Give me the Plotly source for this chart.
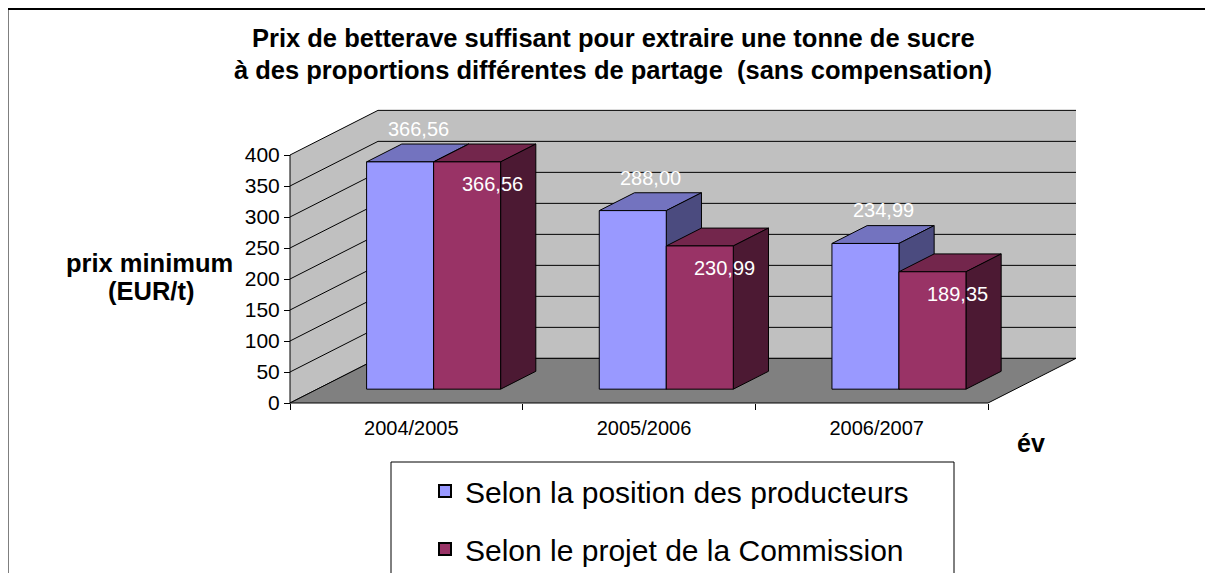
import plotly.graph_objects as go

# ---------------- data ----------------
categories = ["2004/2005", "2005/2006", "2006/2007"]
producteurs = [366.56, 288.00, 234.99]
commission = [366.56, 230.99, 189.35]
series_names = ["Selon la position des producteurs", "Selon le projet de la Commission"]
y_ticks = [0, 50, 100, 150, 200, 250, 300, 350, 400]
title_lines = ["Prix de betterave suffisant pour extraire une tonne de sucre",
               "à des proportions différentes de partage  (sans compensation)"]
y_title_lines = ["prix minimum", "(EUR/t)"]
x_title = "év"

# ---------------- styling / geometry ----------------
W, H = 1213, 573
OFF = 8               # page body margin of the html page
PX_X = 232.7          # pixels per category unit
PX_Y = 0.62           # pixels per value unit
DX = 88 / PX_X        # full depth shift (x units)
DY = 72               # full depth shift (value units)
D0, D1 = 0.31, 0.71   # bar depth (front/back fraction)
BW = 0.288            # bar width (category units)
YMAX = max(y_ticks)

X0 = -0.5 - 4 / PX_X
X1 = 2.5 + DX + 4 / PX_X
Y0 = -4 / PX_Y
Y1 = (403 - 106) / PX_Y
PW = 794
PH = 301
ML = 286 - OFF
MT = 106 - OFF
MR = W - ML - PW
MB = H - MT - PH

def px(xp):
    return (xp - OFF - ML) / PW

def py(yp):
    return (H - MB - (yp - OFF)) / PH

FONT = "Arial, Liberation Sans, sans-serif"
front_cols = ["#9999FF", "#993366"]
top_cols = ["#7373BF", "#73264C"]
side_cols = ["#4B4B7F", "#4C1933"]
WALL = "#C0C0C0"
FLOOR = "#808080"

def poly(pts):
    return "M " + " L ".join(f"{x},{y}" for x, y in pts) + " Z"

shapes = []
# outer frame
shapes.append(dict(type="rect", xref="paper", yref="paper", x0=px(7.5), x1=px(1230),
                   y0=py(9), y1=py(590), line=dict(color="black", width=2),
                   fillcolor="rgba(0,0,0,0)", layer="below"))
# side wall
shapes.append(dict(type="path", xref="x", yref="y", layer="below",
                   path=poly([(-0.5, 0), (-0.5, YMAX), (-0.5 + DX, YMAX + DY), (-0.5 + DX, DY)]),
                   fillcolor=WALL, line=dict(width=0)))
# back wall
shapes.append(dict(type="path", xref="x", yref="y", layer="below",
                   path=poly([(-0.5 + DX, DY), (-0.5 + DX, YMAX + DY), (2.5 + DX, YMAX + DY), (2.5 + DX, DY)]),
                   fillcolor=WALL, line=dict(width=0)))
# gridlines (back wall + side wall)
for v in y_ticks:
    shapes.append(dict(type="line", xref="x", yref="y", layer="below",
                       x0=-0.5 + DX, x1=2.5 + DX, y0=v + DY, y1=v + DY,
                       line=dict(color="black", width=1)))
    shapes.append(dict(type="line", xref="x", yref="y", layer="below",
                       x0=-0.5, x1=-0.5 + DX, y0=v, y1=v + DY,
                       line=dict(color="black", width=1)))
# floor
shapes.append(dict(type="path", xref="x", yref="y", layer="below",
                   path=poly([(-0.5, 0), (2.5, 0), (2.5 + DX, DY), (-0.5 + DX, DY)]),
                   fillcolor=FLOOR, line=dict(color="black", width=1)))
# y axis line
shapes.append(dict(type="line", xref="x", yref="y", layer="below",
                   x0=-0.5, x1=-0.5, y0=0, y1=YMAX, line=dict(color="black", width=1)))

# bar 3D faces (top + side)
series = [producteurs, commission]
ddx, ddy = (D1 - D0) * DX, (D1 - D0) * DY
yb = D0 * DY
centers = []
for s in range(2):
    centers.append([i + (s - 0.5) * BW + D0 * DX for i in range(len(categories))])
for i in range(len(categories)):
    for s in range(2):
        xl = centers[s][i] - BW / 2
        xr = centers[s][i] + BW / 2
        yt = yb + series[s][i]
        shapes.append(dict(type="path", xref="x", yref="y", layer="below",
                           path=poly([(xl, yt), (xr, yt), (xr + ddx, yt + ddy), (xl + ddx, yt + ddy)]),
                           fillcolor=top_cols[s], line=dict(color="black", width=1)))
        shapes.append(dict(type="path", xref="x", yref="y", layer="below",
                           path=poly([(xr, yb), (xr, yt), (xr + ddx, yt + ddy), (xr + ddx, yb + ddy)]),
                           fillcolor=side_cols[s], line=dict(color="black", width=1)))

# legend box (open at the bottom of the page)
shapes.append(dict(type="rect", xref="paper", yref="paper", x0=px(391), x1=px(954),
                   y0=py(462), y1=py(600), line=dict(color="black", width=1),
                   fillcolor="rgba(0,0,0,0)"))

fig = go.Figure()
for s in range(2):
    fig.add_trace(go.Bar(
        x=centers[s], y=series[s], base=[yb] * len(categories), width=BW,
        name=series_names[s], legendgroup=f"g{s}",
        marker=dict(color=front_cols[s], line=dict(color="black", width=1)),
    ))

annotations = []
fmt = lambda v: f"{v:.2f}".replace(".", ",")
for i in range(len(categories)):
    annotations.append(dict(x=centers[0][i], y=yb + producteurs[i], xref="x", yref="y",
                            text=fmt(producteurs[i]), showarrow=False, xshift=18, yshift=33,
                            xanchor="center", yanchor="middle",
                            font=dict(family=FONT, size=20, color="white")))
    annotations.append(dict(x=centers[1][i], y=yb + commission[i], xref="x", yref="y",
                            text=fmt(commission[i]), showarrow=False, xshift=25, yshift=-22,
                            xanchor="center", yanchor="middle",
                            font=dict(family=FONT, size=20, color="white")))
title_y = [38, 70]
for k, line in enumerate(title_lines):
    annotations.append(dict(x=px(613), y=py(title_y[k]), xref="paper", yref="paper", text=line,
                            showarrow=False, xanchor="center", yanchor="middle",
                            font=dict(family=FONT, size=25.5, color="black", weight="bold")))
y_title_pos = [(149, 263), (151, 291)]
for k, line in enumerate(y_title_lines):
    annotations.append(dict(x=px(y_title_pos[k][0]), y=py(y_title_pos[k][1]), xref="paper", yref="paper",
                            text=line, showarrow=False, xanchor="center", yanchor="middle",
                            font=dict(family=FONT, size=25.5, color="black", weight="bold")))
annotations.append(dict(x=px(1031), y=py(443), xref="paper", yref="paper", text=x_title,
                        showarrow=False, xanchor="center", yanchor="middle",
                        font=dict(family=FONT, size=25, color="black", weight="bold")))

fig.update_layout(
    template="none",
    width=W, height=H,
    margin=dict(l=ML, r=MR, t=MT, b=MB, autoexpand=False),
    paper_bgcolor="white", plot_bgcolor="rgba(0,0,0,0)",
    barmode="overlay",
    xaxis=dict(range=[X0, X1], showgrid=False, zeroline=False, showline=False,
               tickvals=list(range(len(categories))), ticktext=categories,
               ticks="", ticklabelshift=5, ticklabelstandoff=11,
               tickfont=dict(family=FONT, size=20, color="black"),
               anchor="free", position=(0 - Y0) / (Y1 - Y0),
               minor=dict(tickvals=[-0.5, 0.5, 1.5, 2.5], ticks="outside", ticklen=6,
                          tickcolor="black", tickwidth=1, showgrid=False),
               fixedrange=True),
    yaxis=dict(range=[Y0, Y1], showgrid=False, zeroline=False, showline=False,
               tickvals=y_ticks, ticktext=[str(v) for v in y_ticks],
               ticks="outside", ticklen=6, tickcolor="black", tickwidth=1,
               tickfont=dict(family=FONT, size=21, color="black"),
               anchor="free", position=(-0.5 - X0) / (X1 - X0),
               fixedrange=True),
    legend=dict(x=px(391), y=py(465), xanchor="left", yanchor="top",
                bgcolor="rgba(0,0,0,0)", borderwidth=0,
                font=dict(family=FONT, size=30, color="black"),
                traceorder="grouped", tracegroupgap=16, indentation=34,
                itemsizing="constant"),
    shapes=shapes,
    annotations=annotations,
    showlegend=True,
)

fig.write_html("out.html")
